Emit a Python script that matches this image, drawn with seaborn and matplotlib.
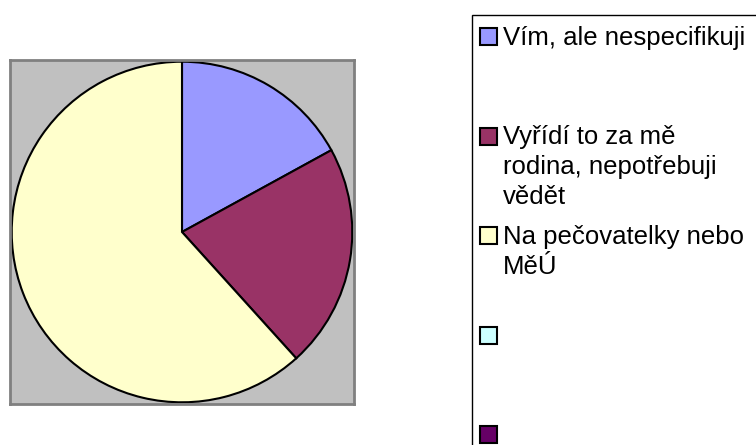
import matplotlib
matplotlib.use("Agg")
import matplotlib.pyplot as plt
import seaborn as sns
from matplotlib.patches import Rectangle

# data
labels = [
    "Vím, ale nespecifikuji",
    "Vyřídí to za mě\nrodina, nepotřebuji\nvědět",
    "Na pečovatelky nebo\nMěÚ",
    "",
    "",
]
counts = [8, 10, 29, 0, 0]
colors = ["#9999FF", "#993366", "#FFFFCC", "#CCFFFF", "#660066"]

sns.set_style("white")
plt.rcParams['font.family'] = ['Liberation Sans', 'DejaVu Sans']

W, H = 756, 445
fig = plt.figure(figsize=(W / 100, H / 100), dpi=100)

# pie in grey plot area
ax = fig.add_axes([10 / W, 1 - 404 / H, 344 / W, 344 / H])
shown = [(v, c) for v, c in zip(counts, colors) if v > 0]
ax.pie([v for v, _ in shown], colors=[c for _, c in shown], startangle=90,
       counterclock=False, radius=1, frame=True,
       wedgeprops=dict(edgecolor='black', linewidth=1.5))
ax.set_facecolor("#C0C0C0")
ax.set_xlim(-1.01, 1.01)
ax.set_ylim(-1.01, 1.01)
ax.set_aspect('equal')
ax.set_xticks([])
ax.set_yticks([])
for s in ax.spines.values():
    s.set_visible(True)
    s.set_color('#808080')
    s.set_linewidth(2)

# legend box (runs off the right and bottom edge)
fig.patches.append(Rectangle((472 / W, -0.1), 1, 1 - 15 / H + 0.1,
                             transform=fig.transFigure, fill=False,
                             edgecolor='black', linewidth=1))

for i, (lab, col) in enumerate(zip(labels, colors)):
    yc = 36.7 + 99.5 * i
    fig.patches.append(Rectangle((480 / W, 1 - (yc + 8.5) / H), 17 / W, 17 / H,
                                 transform=fig.transFigure, facecolor=col,
                                 edgecolor='black', linewidth=1.5))
    # one text per line so the first line sits next to the marker
    for k, line in enumerate(lab.split("\n") if lab else []):
        fig.text(503 / W, 1 - (yc + 8 + 29.8 * k) / H, line, fontsize=18.5,
                 va='baseline', ha='left', color='black')

fig.savefig("out.png", dpi=100)
